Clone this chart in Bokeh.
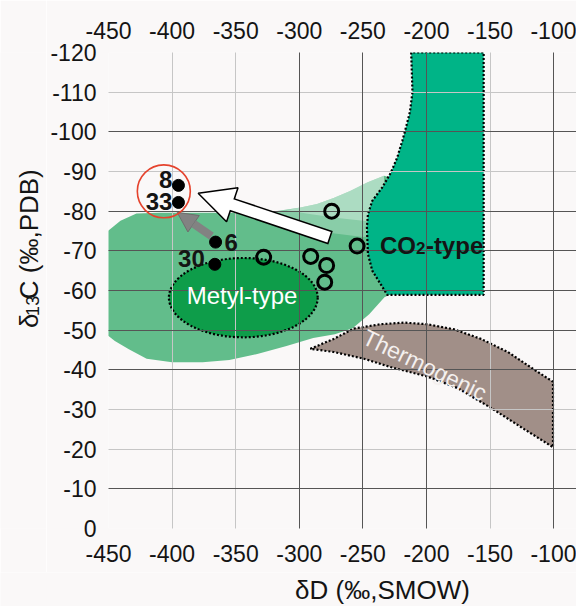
from math import pi, hypot

from bokeh.plotting import figure
from bokeh.layouts import row, column
from bokeh.models import (ColumnDataSource, Range1d, LinearAxis, FixedTicker,
                          Grid, Label, Arrow, NormalHead, CustomJSTickFormatter)
from bokeh.core.properties import value, field
from bokeh.embed import file_html
from bokeh.resources import INLINE

# ---------------------------------------------------------------- data
X_TICKS = [-450, -400, -350, -300, -250, -200, -150, -100]
Y_TICKS = [0, -10, -20, -30, -40, -50, -60, -70, -80, -90, -100, -110, -120]
X_DARK = [-300, -250, -200, -100]
Y_DARK = [-100, -80, -70, -60, -50, -40, -10]

# numbered samples (filled dots)
sample_ids = ["8", "33", "6", "30"]
sample_dD = [-395.0, -395.0, -365.8, -366.4]
sample_d13C = [-86.5, -82.2, -72.2, -66.6]
sample_align = ["right", "right", "left", "right"]
sample_dx = [-6, -6, 9, -10]
sample_dy = [-6, -1, 0, -6]

# other samples (open circles)
open_dD = [-328.0, -291.0, -278.5, -280.0, -274.5, -254.5]
open_d13C = [-68.4, -68.6, -66.3, -62.1, -80.0, -71.2]

# circled group and arrows (dD, d13C)
highlight_dD, highlight_d13C = -406.5, -85.0
gray_arrow_from = (-369.0, -73.7)
gray_arrow_to = (-396.0, -79.7)
white_arrow_from = (-275.4, -73.3)
white_arrow_to = (-379.5, -84.5)

# field outlines
blob_dD = [-460, -450, -440.6, -428, -410, -380, -350, -320, -299, -286, -273,
           -260, -246.6, -233.4, -222, -222, -233, -245, -258, -272, -289,
           -310, -333, -355, -376, -400, -420, -434, -445, -450, -460]
blob_d13C = [-74, -75.1, -77.6, -79.4, -79.6, -79.6, -79.6, -79.9, -80.9, -81.8,
             -83.3, -85.1, -87.2, -88.9, -88, -60, -58.3, -54, -50.5, -49, -48,
             -46, -44, -42.5, -41.9, -41.9, -42.8, -45.2, -47.3, -48.5, -49]
tail1_dD = [-345, -320, -299, -286, -273, -260, -246.6, -233.4, -232, -250,
            -275, -300, -330]
tail1_d13C = [-79.6, -79.9, -80.9, -81.8, -83.3, -85.1, -87.2, -88.9, -74,
              -73.5, -74.5, -76.5, -78.5]
tail2_dD = [-310, -299, -286, -273, -260, -246.6, -233.4, -232, -248, -268, -292]
tail2_d13C = [-80.2, -80.9, -81.8, -83.3, -85.1, -87.2, -88.9, -78.5, -77.5,
              -78.2, -79.3]

metyl_center = (-344.0, -58.2)
metyl_size = (117.0, 20.0)

co2_dD = [-212, -211, -213, -217, -219, -223, -228, -234.7, -242.6, -246,
          -246.8, -246.6, -246, -242.6, -236, -230.8, -155, -155]
co2_d13C = [-120, -110, -105, -100, -97.7, -93.5, -89.7, -86, -82.6, -79.2,
            -76, -74.2, -69.2, -65, -61.6, -58.9, -58.9, -120]

thermo_dD = [-291.3, -272.9, -257.1, -236, -217.6, -199.2, -178.2, -157.1,
             -136, -115, -100.5, -100.5, -122.9, -149.2, -175.5, -199.2,
             -228.2, -249.2, -272.9]
thermo_d13C = [-45.3, -47.8, -50.4, -51.5, -51.9, -51.5, -50.2, -47.8, -44.5,
               -40, -37, -20.5, -25, -30.4, -35.4, -38.3, -40.7, -42.8, -44.5]

X_TITLE = "δD (‰,SMOW)"
Y_TITLE_PARTS = ["δ", "13", "C (‰,PDB)"]

# ---------------------------------------------------------------- layout
W, H = 576, 606
YT_W = 46            # strip holding the vertical axis title
XT_H = 34            # strip holding the horizontal axis title
LEFT, TOP, BOTTOM = 108, 52, 44
MAIN_W, MAIN_H = W - YT_W, H - XT_H
X_START, X_END = -450, -82
Y_START, Y_END = 0, -120
FRAME_W = W - LEFT
FRAME_H = MAIN_H - TOP - BOTTOM
KX = FRAME_W / (X_END - X_START)
KY = FRAME_H / (Y_START - Y_END)

FONT = "Liberation Sans"
BG = "#faf8f8"
INK = "#141414"


def to_screen(x, y):
    return LEFT + (x - X_START) * KX, TOP + (y - Y_END) * KY


def to_data(sx, sy):
    return X_START + (sx - LEFT) / KX, Y_END + (sy - TOP) / KY


p = figure(width=MAIN_W, height=MAIN_H, x_range=Range1d(X_START, X_END),
           y_range=Range1d(Y_START, Y_END), output_backend="svg",
           toolbar_location=None, min_border_left=LEFT - YT_W,
           min_border_right=0, min_border_top=TOP, min_border_bottom=BOTTOM,
           background_fill_color=BG, border_fill_color=BG,
           outline_line_color=None)

plain_ticks = CustomJSTickFormatter(code="return tick.toString();")


def style_axis(ax, ticks, standoff):
    ax.ticker = FixedTicker(ticks=ticks)
    ax.formatter = plain_ticks
    ax.axis_line_color = None
    ax.major_tick_line_color = None
    ax.minor_tick_line_color = None
    ax.major_tick_out = 0
    ax.major_tick_in = 0
    ax.major_label_text_font = FONT
    ax.major_label_text_font_size = "23px"
    ax.major_label_text_color = INK
    ax.major_label_standoff = standoff


style_axis(p.xaxis[0], X_TICKS, 16)
style_axis(p.yaxis[0], Y_TICKS, 12)
top_axis = LinearAxis()
style_axis(top_axis, X_TICKS, 14)
p.add_layout(top_axis, "above")

# grid drawn over the filled fields
LIGHT_GRID = "#c6c6c6"
DARK_GRID = "#555555"
p.xgrid.ticker = FixedTicker(ticks=[t for t in X_TICKS if t not in X_DARK])
p.ygrid.ticker = FixedTicker(ticks=[t for t in Y_TICKS if t not in Y_DARK])
for g in (p.xgrid[0], p.ygrid[0]):
    g.grid_line_color = LIGHT_GRID
    g.grid_line_width = 1
    g.level = "guide"
for dim, ticks in ((0, X_DARK), (1, Y_DARK)):
    p.add_layout(Grid(dimension=dim, ticker=FixedTicker(ticks=ticks),
                      grid_line_color=DARK_GRID, grid_line_width=1,
                      level="guide"))

# ---------------------------------------------------------------- fields
p.patch(blob_dD, blob_d13C, fill_color="#62bd8b", line_color=None)
p.patch(tail1_dD, tail1_d13C, fill_color="white", fill_alpha=0.25, line_color=None)
p.patch(tail2_dD, tail2_d13C, fill_color="white", fill_alpha=0.3, line_color=None)

p.ellipse(x=[metyl_center[0]], y=[metyl_center[1]], width=[metyl_size[0]],
          height=[metyl_size[1]], fill_color="#0e9d4a", line_color="black",
          line_width=2.2, line_dash="2 2")

p.patch(co2_dD, co2_d13C, fill_color="#00b487", line_color="black",
        line_width=2.2, line_dash="2 2")
p.patch(thermo_dD, thermo_d13C, fill_color="#a18f88", line_color="black",
        line_width=2.2, line_dash="2 2")

# ---------------------------------------------------------------- arrows
gx0, gy0 = gray_arrow_from
gx1, gy1 = gray_arrow_to
p.add_layout(Arrow(end=NormalHead(size=20, fill_color="#828282",
                                  line_color="#6e6e6e", line_width=1),
                   x_start=gx0, y_start=gy0, x_end=gx1, y_end=gy1,
                   line_color="#828282", line_width=8))

HEAD = 36
sx0, sy0 = to_screen(*white_arrow_from)
sx1, sy1 = to_screen(*white_arrow_to)
dist = hypot(sx1 - sx0, sy1 - sy0)
ux, uy = (sx1 - sx0) / dist, (sy1 - sy0) / dist
base = to_data(sx1 - ux * HEAD, sy1 - uy * HEAD)
inner_start = to_data(sx0 + ux * 1.5, sy0 + uy * 1.5)
inner_end = to_data(sx1 - ux * (HEAD - 4), sy1 - uy * (HEAD - 4))
p.add_layout(Arrow(end=None, x_start=white_arrow_from[0], y_start=white_arrow_from[1],
                   x_end=base[0], y_end=base[1], line_color="black",
                   line_width=14))
p.add_layout(Arrow(end=NormalHead(size=HEAD, fill_color="white",
                                  line_color="black", line_width=1.5),
                   x_start=base[0], y_start=base[1],
                   x_end=white_arrow_to[0], y_end=white_arrow_to[1],
                   line_alpha=0))
p.add_layout(Arrow(end=None, x_start=inner_start[0], y_start=inner_start[1],
                   x_end=inner_end[0], y_end=inner_end[1], line_color="white",
                   line_width=11))

# ---------------------------------------------------------------- samples
p.scatter([highlight_dD], [highlight_d13C], size=53, marker="circle",
          fill_color=None, line_color="#e5432d", line_width=1.6, level="overlay")
p.scatter(open_dD, open_d13C, size=14, marker="circle", fill_color=None,
          line_color="black", line_width=3, level="overlay")
p.scatter(sample_dD, sample_d13C, size=12, marker="circle", fill_color="black",
          line_color="black", level="overlay")

labels = ColumnDataSource(dict(x=sample_dD, y=sample_d13C, text=sample_ids,
                               align=sample_align, dx=sample_dx, dy=sample_dy))
p.text(x="x", y="y", text="text", source=labels, x_offset="dx", y_offset="dy",
       text_align=field("align"), text_baseline="middle",
       text_font=value(FONT), text_font_style="bold", text_font_size="24px",
       text_color=INK, level="overlay")

# ---------------------------------------------------------------- field names
p.add_layout(Label(x=-345, y=-58.8, text="Metyl-type", text_font=FONT,
                   text_font_size="24px", text_color="white",
                   text_align="center", text_baseline="middle"))
p.add_layout(Label(x=-201.3, y=-41.2, text="Thermogenic", text_font=FONT,
                   text_font_size="23px", text_color="#f4f0ef",
                   text_align="center", text_baseline="middle",
                   angle=-0.45))

co2_x, co2_y = -236.6, -71.3
for txt, dx, dy_px, size in (("CO", 0, 0, "24px"), ("2", 36, 2, "17px"),
                             ("-type", 46, 0, "24px")):
    p.add_layout(Label(x=co2_x, y=co2_y + dy_px / KY, x_offset=dx, text=txt,
                       text_font=FONT, text_font_style="bold",
                       text_font_size=size, text_color=INK, text_align="left",
                       text_baseline="middle"))

# ---------------------------------------------------------------- axis titles
def title_strip(width, height):
    f = figure(width=width, height=height, x_range=Range1d(0, width),
               y_range=Range1d(height, 0), output_backend="svg",
               toolbar_location=None, x_axis_type=None, y_axis_type=None,
               min_border=0, background_fill_color=BG, border_fill_color=BG,
               outline_line_color=None)
    f.xgrid.visible = False
    f.ygrid.visible = False
    return f


ytitle = title_strip(YT_W, MAIN_H)
ypos, sizes, shifts = 331.0, ["26px", "18px", "26px"], [0, 4, 0]
advances = [14.5, 20.0, 0]
for txt, size, shift, adv in zip(Y_TITLE_PARTS, sizes, shifts, advances):
    ytitle.text(x=[28 + shift], y=[ypos], text=[txt], angle=pi / 2,
                text_align="left", text_baseline="middle",
                text_font=value(FONT), text_font_size=size, text_color=INK)
    ypos -= adv

xtitle = title_strip(W, XT_H)
xtitle.text(x=[382], y=[17], text=[X_TITLE], text_align="center",
            text_baseline="middle", text_font=value(FONT),
            text_font_size="26px", text_color=INK)

layout = column(row(ytitle, p, spacing=0), xtitle, spacing=0)
open("out.html", "w").write(file_html(layout, INLINE))
